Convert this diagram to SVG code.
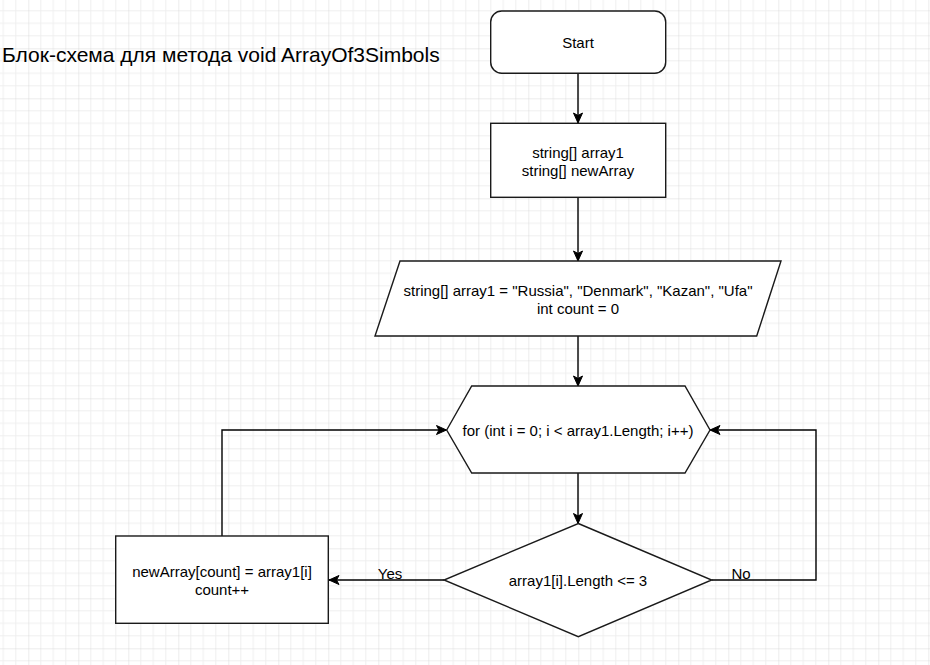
<svg xmlns="http://www.w3.org/2000/svg" width="930" height="665" viewBox="0 0 930 665">
<defs>
<pattern id="grid" x="28.3" y="48.3" width="50" height="50" patternUnits="userSpaceOnUse">
<path d="M12.5,0V50M25,0V50M37.5,0V50M0,12.5H50M0,25H50M0,37.5H50" stroke="#efefef" stroke-width="1" fill="none"/>
<path d="M0,0V50M0,0H50" stroke="#d9d9d9" stroke-width="1" fill="none"/>
</pattern>
<marker id="arr" markerUnits="userSpaceOnUse" markerWidth="12" markerHeight="12" viewBox="0 0 12 12" refX="11" refY="6" orient="auto">
<path d="M1,1.5 L11,6 L1,10.5 L3.5,6 Z" fill="#000" stroke="#000" stroke-width="1"/>
</marker>
<style>
.shape{fill:#fff;stroke:#1a1a1a;stroke-width:1.4}
.t{font-family:"Liberation Sans",Arial,sans-serif;font-size:15px;fill:#000;text-anchor:middle;dominant-baseline:central}
.lbl{font-family:"Liberation Sans",Arial,sans-serif;font-size:15px;fill:#000;text-anchor:middle;dominant-baseline:central}
.edge{fill:none;stroke:#000;stroke-width:1.4}
</style>
</defs>
<rect width="930" height="665" fill="#fff"/>
<rect width="930" height="665" fill="url(#grid)"/>
<text x="2" y="54" font-family="&quot;Liberation Sans&quot;,Arial,sans-serif" font-size="21" fill="#000" dominant-baseline="central">Блок-схема для метода void ArrayOf3Simbols</text>
<g id="edges">
<path class="edge" d="M578,73.5V123" marker-end="url(#arr)"/>
<path class="edge" d="M578,197V261" marker-end="url(#arr)"/>
<path class="edge" d="M578,336V386" marker-end="url(#arr)"/>
<path class="edge" d="M578,473V523.5" marker-end="url(#arr)"/>
<path class="edge" d="M444,580H329" marker-end="url(#arr)"/>
<path class="edge" d="M222,536V430H446.5" marker-end="url(#arr)"/>
<path class="edge" d="M711.5,580H816V430H710" marker-end="url(#arr)"/>
<text class="lbl" x="390" y="573">Yes</text>
<text class="lbl" x="741" y="573">No</text>
</g>
<g id="start">
<rect class="shape" x="490.7" y="11" width="175" height="62.3" rx="11" ry="11"/>
<text class="t" x="578" y="42.5">Start</text>
</g>
<g id="declare">
<rect class="shape" x="490.7" y="123.3" width="175" height="74"/>
<text class="t" x="578" y="152.5">string[] array1</text>
<text class="t" x="578" y="170">string[] newArray</text>
</g>
<g id="init">
<polygon class="shape" points="400,261 781,261 756.7,336 375,336"/>
<text class="t" x="578" y="290.5">string[] array1 = "Russia", "Denmark", "Kazan", "Ufa"</text>
<text class="t" x="578" y="308">int count = 0</text>
</g>
<g id="loop">
<polygon class="shape" points="446.7,430 471.7,386 685,386 710,430 685,473 471.7,473"/>
<text class="t" x="578" y="430">for (int i = 0; i &lt; array1.Length; i++)</text>
</g>
<g id="cond">
<polygon class="shape" points="578.3,523.5 711.7,580 578.3,636.7 444,580"/>
<text class="t" x="578" y="580">array1[i].Length &lt;= 3</text>
</g>
<g id="assign">
<rect class="shape" x="115.7" y="536" width="212.6" height="87.3"/>
<text class="t" x="222" y="571.5">newArray[count] = array1[i]</text>
<text class="t" x="222" y="589">count++</text>
</g>
</svg>
